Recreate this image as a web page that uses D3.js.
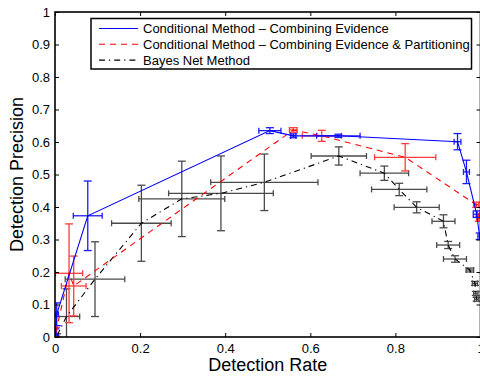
<!DOCTYPE html>
<html>
<head>
<meta charset="utf-8">
<script src="https://cdn.jsdelivr.net/npm/d3@7"></script>
<style>
  html, body { margin: 0; padding: 0; background: #fff; }
  svg { display: block; }
  text { font-family: "Liberation Sans", Arial, Helvetica, sans-serif; }
</style>
</head>
<body>
<svg id="chart" width="480" height="379"></svg>
<script>
// Conditional Method – Combining Evidence
const blueX    = [0.001, 0.004, 0.077, 0.505, 0.560, 0.666, 0.946, 0.967, 0.991, 0.998];
const blueY    = [0.015, 0.070, 0.373, 0.635, 0.619, 0.619, 0.601, 0.508, 0.378, 0.310];
const blueXErr = [0.002, 0.004, 0.034, 0.026, 0.006, 0.051, 0.008, 0.007, 0.008, 0.004];
const blueYErr = [0.010, 0.035, 0.107, 0.009, 0.006, 0.005, 0.025, 0.036, 0.010, 0.010];

// Conditional Method – Combining Evidence & Partitioning
const redX    = [0.002, 0.033, 0.044, 0.560, 0.627, 0.823, 0.990, 0.996];
const redY    = [0.015, 0.196, 0.157, 0.637, 0.619, 0.553, 0.407, 0.364];
const redXErr = [0.002, 0.032, 0.029, 0.009, 0.046, 0.072, 0.006, 0.005];
const redYErr = [0.015, 0.152, 0.092, 0.007, 0.017, 0.042, 0.008, 0.008];

// Bayes Net Method
const bayesX    = [0.005, 0.027, 0.094, 0.203, 0.298, 0.390, 0.492, 0.667, 0.774, 0.809, 0.850, 0.913, 0.924, 0.940, 0.975, 0.987, 0.989, 0.991];
const bayesY    = [0.005, 0.063, 0.178, 0.350, 0.425, 0.442, 0.476, 0.557, 0.504, 0.454, 0.399, 0.356, 0.283, 0.240, 0.206, 0.165, 0.134, 0.116];
const bayesXErr = [0.003, 0.031, 0.070, 0.070, 0.101, 0.123, 0.126, 0.065, 0.057, 0.065, 0.053, 0.027, 0.027, 0.027, 0.009, 0.006, 0.005, 0.005];
const bayesYErr = [0.005, 0.085, 0.115, 0.117, 0.116, 0.115, 0.087, 0.028, 0.022, 0.019, 0.017, 0.020, 0.011, 0.010, 0.006, 0.006, 0.006, 0.006];

const xTicks = [0, 0.2, 0.4, 0.6, 0.8, 1];
const yTicks = [0, 0.1, 0.2, 0.3, 0.4, 0.5, 0.6, 0.7, 0.8, 0.9, 1];
const xTitle = "Detection Rate";
const yTitle = "Detection Precision";
const seriesNames = [
  "Conditional Method – Combining Evidence",
  "Conditional Method – Combining Evidence & Partitioning",
  "Bayes Net Method"
];

const svg = d3.select("#chart");
const plotLeft = 55, plotTop = 12, plotW = 425.5, plotH = 325;

const x = d3.scaleLinear().domain([0, 1]).range([plotLeft, plotLeft + plotW]);
const y = d3.scaleLinear().domain([0, 1]).range([plotTop + plotH, plotTop]);

svg.append("defs").append("clipPath").attr("id", "plotClip")
  .append("rect").attr("x", plotLeft).attr("y", plotTop).attr("width", plotW).attr("height", plotH);

const plot = svg.append("g").attr("clip-path", "url(#plotClip)");

function zip(xs, ys, xe, ye) {
  return xs.map((v, i) => ({ x: v, y: ys[i], xe: xe[i], ye: ye[i] }));
}

const series = [
  { name: seriesNames[0], pts: zip(blueX, blueY, blueXErr, blueYErr), color: "#0000ff", bar: "#1a1aff", dash: null },
  { name: seriesNames[1], pts: zip(redX, redY, redXErr, redYErr), color: "#ff0000", bar: "#ff3b3b", dash: "6,5" },
  { name: seriesNames[2], pts: zip(bayesX, bayesY, bayesXErr, bayesYErr), color: "#000000", bar: "#4a4a4a", dash: "6,4,1.2,4" }
];

const capW = 4, capH = 3;

// error bars first, lines on top
series.slice().reverse().forEach(s => {
  const g = plot.append("g").attr("stroke", s.bar).attr("stroke-width", 1.3).attr("fill", "none");
  s.pts.forEach(p => {
    const cx = x(p.x), cy = y(p.y);
    const y0 = y(p.y - p.ye), y1 = y(p.y + p.ye);
    const x0 = x(p.x - p.xe), x1 = x(p.x + p.xe);
    // vertical bar with caps
    g.append("line").attr("x1", cx).attr("x2", cx).attr("y1", y0).attr("y2", y1);
    g.append("line").attr("x1", cx - capW).attr("x2", cx + capW).attr("y1", y0).attr("y2", y0);
    g.append("line").attr("x1", cx - capW).attr("x2", cx + capW).attr("y1", y1).attr("y2", y1);
    // horizontal bar with caps
    g.append("line").attr("x1", x0).attr("x2", x1).attr("y1", cy).attr("y2", cy);
    g.append("line").attr("x1", x0).attr("x2", x0).attr("y1", cy - capH).attr("y2", cy + capH);
    g.append("line").attr("x1", x1).attr("x2", x1).attr("y1", cy - capH).attr("y2", cy + capH);
  });
});

const line = d3.line().x(d => x(d.x)).y(d => y(d.y));
series.slice().reverse().forEach(s => {
  plot.append("path").datum(s.pts)
    .attr("d", line)
    .attr("fill", "none")
    .attr("stroke", s.color)
    .attr("stroke-width", 1.1)
    .attr("stroke-dasharray", s.dash);
});

// axes box with inward ticks on all four sides
const axisStyle = g => {
  g.selectAll(".domain").remove();
  g.selectAll(".tick line").attr("stroke", "#000").attr("stroke-width", 1);
  g.selectAll("text").attr("font-size", 13).attr("fill", "#000")
    .attr("font-family", "'Liberation Sans', Arial, sans-serif");
};

svg.append("g").attr("transform", `translate(0,${plotTop + plotH})`)
  .call(d3.axisBottom(x).tickValues(xTicks).tickFormat(d3.format("~g")).tickSizeInner(-4).tickSizeOuter(0).tickPadding(7))
  .call(axisStyle);
svg.append("g").attr("transform", `translate(0,${plotTop})`)
  .call(d3.axisTop(x).tickValues(xTicks).tickFormat("").tickSizeInner(-4).tickSizeOuter(0))
  .call(axisStyle);
svg.append("g").attr("transform", `translate(${plotLeft},0)`)
  .call(d3.axisLeft(y).tickValues(yTicks).tickFormat(d3.format("~g")).tickSizeInner(-4).tickSizeOuter(0).tickPadding(5))
  .call(axisStyle);
svg.append("g").attr("transform", `translate(${plotLeft + plotW},0)`)
  .call(d3.axisRight(y).tickValues(yTicks).tickFormat("").tickSizeInner(-4).tickSizeOuter(0))
  .call(axisStyle);

svg.append("rect").attr("x", plotLeft).attr("y", plotTop).attr("width", plotW).attr("height", plotH)
  .attr("fill", "none").attr("stroke", "#000").attr("stroke-width", 1.6);

// axis titles
svg.append("text").attr("x", x(0.5)).attr("y", 371)
  .attr("text-anchor", "middle").attr("font-size", 18).text(xTitle);
svg.append("text").attr("transform", `translate(23,${y(0.5)}) rotate(-90)`)
  .attr("text-anchor", "middle").attr("font-size", 18).text(yTitle);

// legend
const lg = svg.append("g");
lg.append("rect").attr("x", 91).attr("y", 18.5).attr("width", 380.5).attr("height", 50.5)
  .attr("fill", "#fff").attr("stroke", "#000").attr("stroke-width", 1.5);
series.forEach((s, i) => {
  const ly = 28.5 + i * 15.8;
  lg.append("line").attr("x1", 99).attr("x2", 138).attr("y1", ly).attr("y2", ly)
    .attr("stroke", s.color).attr("stroke-width", 1.1).attr("stroke-dasharray", s.dash);
  lg.append("text").attr("x", 143).attr("y", ly).attr("dy", "0.36em")
    .attr("font-size", 13).text(s.name);
});
</script>
</body>
</html>
